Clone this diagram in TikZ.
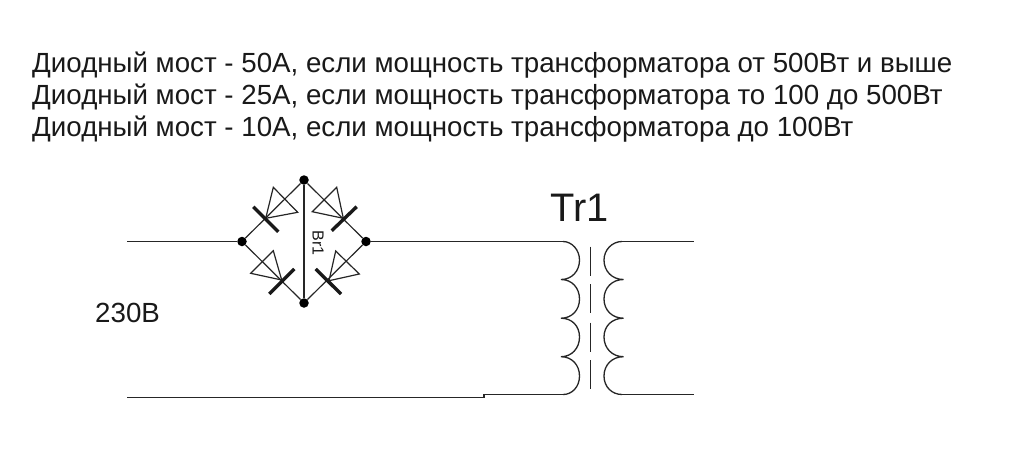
\documentclass[tikz,border=0pt]{standalone}
\usepackage{fontspec}
\setmainfont{Liberation Sans}
\tikzset{
  wire/.style={line width=1.2pt,black!85},
  dot/.style={circle,fill=black,inner sep=0pt,minimum size=9.5pt},
  diode/.style={line width=1.2pt,black!85,line join=miter},
  bar/.style={line width=3.4pt,black!90},
  core/.style={line width=1.2pt,black!85},
  txt/.style={anchor=base west,inner sep=0pt,text=black!90},
  coil/.style={line width=1.3pt,black!85}
}
\begin{document}
\begin{tikzpicture}[x=1pt,y=-1pt]
\useasboundingbox (0,0) rectangle (1024,459);
\fill[white] (0,0) rectangle (1024,459);
% texts
\node[txt,font=\fontsize{27.7}{30}\selectfont] (l1) at (32,72) {Диодный мост - 50А, если мощность трансформатора от 500Вт и выше};
\node[txt,font=\fontsize{27.7}{30}\selectfont] (l2) at (32,104) {Диодный мост - 25А, если мощность трансформатора то 100 до 500Вт};
\node[txt,font=\fontsize{27.7}{30}\selectfont] (l3) at (32,136) {Диодный мост - 10А, если мощность трансформатора до 100Вт};
\node[txt,font=\fontsize{27.7}{30}\selectfont] (v) at (95,322) {230В};
\node[txt,font=\fontsize{39.8}{42}\selectfont] (tr) at (550.5,221) {Tr1};
\node[font=\fontsize{16}{17}\selectfont,rotate=-90,inner sep=0pt,text=black!90] (br) at (318,243) {Br1};
% bridge nodes
\node[dot] (t) at (304,180) {};
\node[dot] (b) at (304,303) {};
\node[dot] (w) at (242,241.5) {};
\node[dot] (e) at (366,241.5) {};
\coordinate (in) at (127,241.5);
\coordinate (lo) at (127,397.5);
\coordinate (lo2) at (484,397.5);
\coordinate (lo3) at (484,394.5);
\coordinate (pa) at (563,241.5);
\coordinate (pb) at (563,394.5);
\coordinate (sa) at (622,241.5);
\coordinate (sb) at (622,394.5);
\coordinate (oa) at (694,241.5);
\coordinate (ob) at (694,394.5);
\draw[wire] (in) -- (w);
\draw[wire] (e) -- (pa);
\draw[wire] (lo) -- (lo2) -- (lo3) -- (pb);
\draw[wire] (sa) -- (oa);
\draw[wire] (sb) -- (ob);
\draw[wire] (t) -- (b);
\draw[wire] (t) -- (w) -- (b) -- (e) -- (t);
% diodes
\coordinate (d1) at (265.7,218.3);
\coordinate (d2) at (343.3,218.3);
\coordinate (d3) at (281.7,280);
\coordinate (d4) at (329,280.7);
\draw[diode] (d1) -- (273.3,187.3) -- (297.7,212.3) -- cycle;
\draw[diode] (d2) -- (336.7,187.3) -- (312.3,211.7) -- cycle;
\draw[diode] (d3) -- (273.3,250.7) -- (250.7,273.3) -- cycle;
\draw[diode] (d4) -- (335.7,251) -- (359.3,274) -- cycle;
\draw[bar] (253.3,206.7) -- (278.3,231.7);
\draw[bar] (331.7,230.7) -- (356.7,206.7);
\draw[bar] (269.3,294) -- (294.3,269);
\draw[bar] (315.7,269) -- (341,294);
% transformer
\draw[coil] (pa)
  .. controls (572,241.5) and (579.5,250) .. (579.5,260)
  .. controls (579.5,271) and (572,279.5) .. (561,279.5)
  .. controls (572,279.5) and (579.5,288) .. (579.5,299)
  .. controls (579.5,310) and (572,318.2) .. (561,318.2)
  .. controls (572,318.2) and (579.5,326) .. (579.5,337)
  .. controls (579.5,348) and (572,356.7) .. (561,356.7)
  .. controls (572,356.7) and (579.5,365) .. (579.5,376)
  .. controls (579.5,387) and (572,394.5) .. (pb);
\draw[coil] (sa)
  .. controls (612,241.5) and (604,250) .. (604,260)
  .. controls (604,271) and (612,279.5) .. (623.5,279.5)
  .. controls (612,279.5) and (604,288) .. (604,299)
  .. controls (604,310) and (612,318.2) .. (623.5,318.2)
  .. controls (612,318.2) and (604,326) .. (604,337)
  .. controls (604,348) and (612,356.7) .. (623.5,356.7)
  .. controls (612,356.7) and (604,365) .. (604,376)
  .. controls (604,387) and (612,394.5) .. (sb);
\draw[core] (590.3,246.7) -- (590.3,276);
\draw[core] (590.3,284.3) -- (590.3,313.3);
\draw[core] (590.3,322.7) -- (590.3,351.7);
\draw[core] (590.3,360) -- (590.3,389.3);
\end{tikzpicture}
\end{document}
